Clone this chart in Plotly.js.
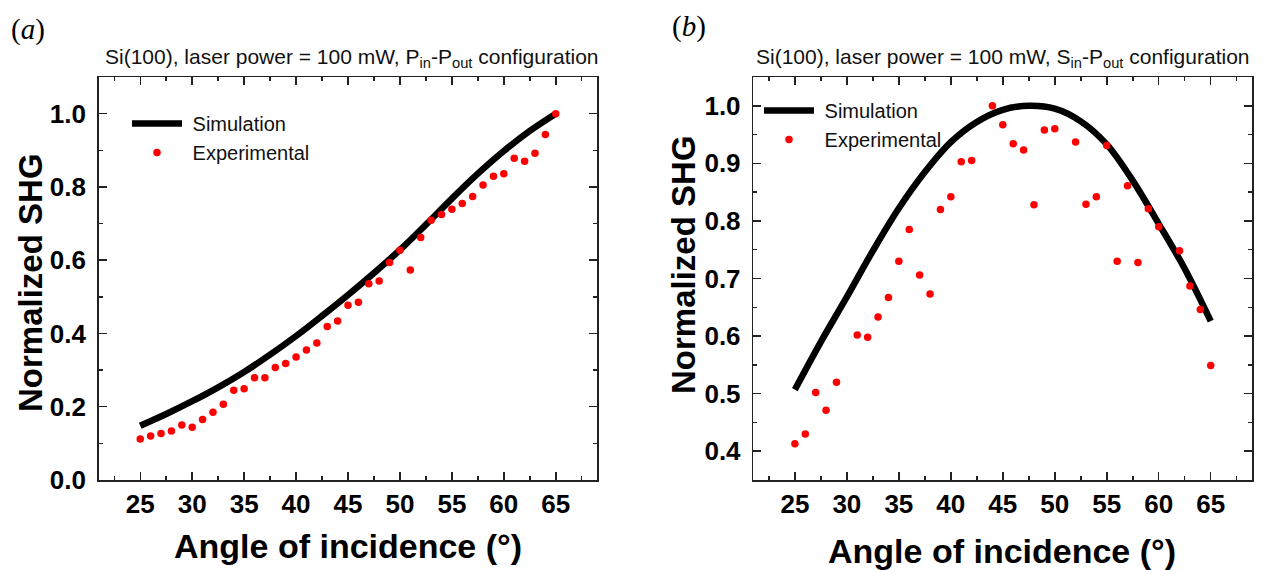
<!DOCTYPE html>
<html>
<head>
<meta charset="utf-8">
<script src="https://cdn.plot.ly/plotly-3.0.1.min.js"></script>
<style>html,body{margin:0;padding:0;background:#fff;}#chart{width:1266px;height:570px;}</style>
</head>
<body>
<div id="chart"></div>
<script>
// Panel (a): P_in - P_out
const angleA = [25,26,27,28,29,30,31,32,33,34,35,36,37,38,39,40,41,42,43,44,45,46,47,48,49,50,51,52,53,54,55,56,57,58,59,60,61,62,63,64,65];
const expA = [0.112,0.120,0.127,0.134,0.150,0.144,0.165,0.185,0.207,0.245,
              0.249,0.279,0.279,0.307,0.318,0.336,0.355,0.374,0.419,0.434,
              0.477,0.485,0.536,0.543,0.594,0.627,0.573,0.662,0.709,0.725,
              0.739,0.755,0.774,0.805,0.829,0.836,0.878,0.870,0.892,0.943,1.000];
const simAngleA = [25,27.5,30,32.5,35,37.5,40,42.5,45,47.5,50,52.5,55,57.5,60,62.5,65];
const simA = [0.148,0.180,0.215,0.253,0.295,0.342,0.393,0.448,0.505,0.565,0.628,0.697,0.768,0.836,0.898,0.953,1.000];

// Panel (b): S_in - P_out
const angleB = [25,26,27,28,29,31,32,33,34,35,36,37,38,39,40,41,42,44,45,46,47,48,49,50,52,53,54,55,56,57,58,59,60,62,63,64,65];
const expB = [0.413,0.430,0.502,0.471,0.520,
              0.602,0.598,0.633,0.667,0.730,0.785,0.706,0.673,0.820,0.842,0.903,0.905,
              1.000,0.967,0.934,0.923,0.828,0.958,0.960,
              0.937,0.829,0.842,0.931,0.730,0.861,0.728,0.821,0.790,
              0.748,0.687,0.646,0.549];
const simAngleB = [25,27.5,30,32.5,35,37.5,40,42.5,45,47.5,50,52.5,55,57.5,60,62.5,65];
const simB = [0.507,0.590,0.668,0.748,0.822,0.885,0.937,0.972,0.993,1.000,0.995,0.973,0.933,0.870,0.795,0.717,0.626];

const xTickVals = [25,30,35,40,45,50,55,60,65];
const seriesNames = ['Simulation','Experimental'];
const panelTitles = ['Si(100), laser power = 100 mW, P<sub>in</sub>-P<sub>out</sub> configuration',
                     'Si(100), laser power = 100 mW, S<sub>in</sub>-P<sub>out</sub> configuration'];
const panelLabels = ['(<i>a</i>)','(<i>b</i>)'];
const xTitle = 'Angle of incidence (°)';
const yTitle = 'Normalized SHG';

const W = 1266, H = 570;
const px = v => v / W;
const py = v => 1 - v / H;
const nb = '\u00a0';

const lineStyle = {color:'#000', width:6.5, shape:'spline', smoothing:1};
const markerStyle = {color:'#ff0000', size:7.5};

const traces = [
  {x:simAngleA, y:simA, type:'scatter', mode:'lines', name:nb+seriesNames[0], line:lineStyle, xaxis:'x', yaxis:'y', legend:'legend'},
  {x:angleA, y:expA, type:'scatter', mode:'markers', name:nb+seriesNames[1], marker:markerStyle, xaxis:'x', yaxis:'y', legend:'legend'},
  {x:simAngleB, y:simB, type:'scatter', mode:'lines', name:nb+seriesNames[0], line:lineStyle, xaxis:'x2', yaxis:'y2', legend:'legend2'},
  {x:angleB, y:expB, type:'scatter', mode:'markers', name:nb+seriesNames[1], marker:markerStyle, xaxis:'x2', yaxis:'y2', legend:'legend2'}
];

const tickFont = {family:'Liberation Sans, Arial, sans-serif', size:26, color:'#000', weight:'bold'};
const axisCommon = {
  showline:true, linecolor:'#222', linewidth:1.5, mirror:'ticks',
  ticks:'inside', ticklen:8, tickwidth:1.5, tickcolor:'#222',
  showgrid:false, zeroline:false, tickfont:tickFont, fixedrange:true
};

function xAxis(domain, anchor){
  return Object.assign({}, axisCommon, {
    domain:domain, anchor:anchor, range:[21,69], tickmode:'array', tickvals:xTickVals,
    minor:{ticks:'inside', ticklen:4, tickwidth:1.5, tickcolor:'#222', dtick:2.5, tick0:20, tickmode:'linear', showgrid:false},
    ticklabelstandoff:0
  });
}
function yAxis(domain, anchor, range, dtick, tick0, mdtick){
  return Object.assign({}, axisCommon, {
    domain:domain, anchor:anchor, range:range, tickmode:'linear', dtick:dtick, tick0:tick0, tickformat:'.1f',
    minor:{ticks:'inside', ticklen:4, tickwidth:1.5, tickcolor:'#222', dtick:mdtick, tick0:tick0, tickmode:'linear', showgrid:false},
    ticklabelstandoff:6
  });
}

const yDom = [py(480), py(77)];
const legendFont = {family:'Liberation Sans, Arial, sans-serif', size:20, color:'#111'};

function ann(text, x, y, font, angle){
  return {text:text, x:px(x), y:py(y), xref:'paper', yref:'paper', showarrow:false,
          xanchor:'center', yanchor:'middle', textangle:angle||0, font:font};
}
const labelFont = {family:'Liberation Serif, DejaVu Serif, serif', size:29, color:'#000'};
const titleFont = {family:'Liberation Sans, Arial, sans-serif', size:21, color:'#111'};
const xTitleFont = {family:'Liberation Sans, Arial, sans-serif', size:34, color:'#000', weight:'bold'};
const yTitleFont = {family:'Liberation Sans, Arial, sans-serif', size:33, color:'#000', weight:'bold'};

const layout = {
  width:W, height:H, margin:{l:0,r:0,t:0,b:0}, paper_bgcolor:'#fff', plot_bgcolor:'#fff',
  showlegend:true,
  xaxis: xAxis([px(98.7), px(597.3)], 'y'),
  yaxis: yAxis(yDom, 'x', [0,1.1], 0.2, 0, 0.1),
  xaxis2: xAxis([px(753.3), px(1252.3)], 'y2'),
  yaxis2: yAxis(yDom, 'x2', [0.35,1.05], 0.1, 0.4, 0.05),
  legend:{x:px(127), y:py(104), xanchor:'left', yanchor:'top', bgcolor:'rgba(0,0,0,0)', borderwidth:0,
          font:legendFont, itemwidth:50, tracegroupgap:0},
  legend2:{x:px(759), y:py(91), xanchor:'left', yanchor:'top', bgcolor:'rgba(0,0,0,0)', borderwidth:0,
          font:legendFont, itemwidth:50, tracegroupgap:0},
  annotations:[
    ann(panelLabels[0], 28, 30, labelFont),
    ann(panelLabels[1], 689, 26, labelFont),
    ann(panelTitles[0], 352, 58, titleFont),
    ann(panelTitles[1], 1003, 58, titleFont),
    ann(xTitle, 348, 546, xTitleFont),
    ann(xTitle, 1002, 551, xTitleFont),
    ann(yTitle, 30, 283, yTitleFont, -90),
    ann(yTitle, 683, 265, yTitleFont, -90)
  ]
};

Plotly.newPlot('chart', traces, layout, {displayModeBar:false, staticPlot:true});
</script>
</body>
</html>
